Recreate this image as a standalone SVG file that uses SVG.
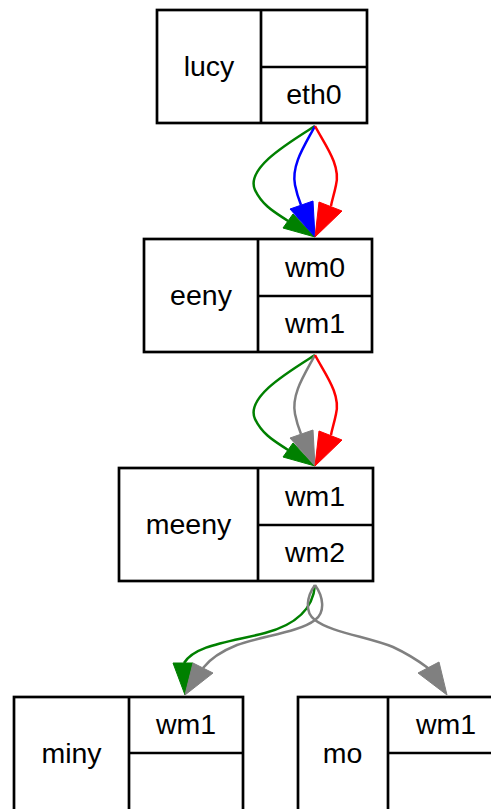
<svg xmlns="http://www.w3.org/2000/svg" width="491" height="809" viewBox="0 0 491 809">
<style>
.box{fill:none;stroke:#000;stroke-width:2.7}
.ln{stroke:#000;stroke-width:2.7}
text{font-family:"Liberation Sans",Arial,sans-serif;font-size:28.5px;text-anchor:middle;fill:#000}
.e{fill:none;stroke-width:2.5}
</style>
<rect width="491" height="809" fill="#fff"/>
<g id="lucy">
<rect class="box" x="157" y="10" width="210" height="113"/>
<line class="ln" x1="261" y1="10" x2="261" y2="123"/>
<line class="ln" x1="261" y1="67" x2="367" y2="67"/>
<text x="209" y="75.5">lucy</text>
<text x="314" y="104">eth0</text>
</g>
<g id="eeny">
<rect class="box" x="144" y="239" width="228" height="113"/>
<line class="ln" x1="258" y1="239" x2="258" y2="352"/>
<line class="ln" x1="258" y1="296" x2="372" y2="296"/>
<text x="201" y="304.5">eeny</text>
<text x="315" y="276.5">wm0</text>
<text x="315" y="332.5">wm1</text>
</g>
<g id="meeny">
<rect class="box" x="119" y="468" width="254" height="113"/>
<line class="ln" x1="258" y1="468" x2="258" y2="581"/>
<line class="ln" x1="258" y1="525" x2="373" y2="525"/>
<text x="188.5" y="533.5">meeny</text>
<text x="315" y="505.5">wm1</text>
<text x="315" y="561.5">wm2</text>
</g>
<g id="miny">
<rect class="box" x="14" y="697" width="229" height="120"/>
<line class="ln" x1="129" y1="697" x2="129" y2="817"/>
<line class="ln" x1="129" y1="753" x2="243" y2="753"/>
<text x="71.5" y="762.5">miny</text>
<text x="186" y="733.5">wm1</text>
</g>
<g id="mo">
<rect class="box" x="298" y="697" width="210" height="120"/>
<line class="ln" x1="388" y1="697" x2="388" y2="817"/>
<line class="ln" x1="388" y1="753" x2="508" y2="753"/>
<text x="342.5" y="762.5">mo</text>
<text x="446" y="733.5">wm1</text>
</g>
<g id="edges">
<path class="e" stroke="#008000" d="M315,126 C290,142 245,168 255,190 C263,207 278,214 288,221"/>
<polygon fill="#008000" stroke="#008000" stroke-width="1" points="283,228 293,214 315,237"/>
<path class="e" stroke="#0000ff" d="M315,126 C305,145 291,165 295,185 C297,195 299,200 301,205"/>
<polygon fill="#0000ff" stroke="#0000ff" stroke-width="1" points="290,209 313,201 315,237"/>
<path class="e" stroke="#ff0000" d="M315,126 C325,145 341,165 336,185 C334,195 332,200 331,206"/>
<polygon fill="#ff0000" stroke="#ff0000" stroke-width="1" points="319,202 342,211 315,237"/>

<path class="e" stroke="#008000" d="M315,355 C290,371 245,397 255,419 C263,436 278,443 288,450"/>
<polygon fill="#008000" stroke="#008000" stroke-width="1" points="283,457 293,443 315,466"/>
<path class="e" stroke="#808080" d="M315,355 C305,374 291,394 295,414 C297,424 299,429 301,434"/>
<polygon fill="#808080" stroke="#808080" stroke-width="1" points="290,438 313,430 315,466"/>
<path class="e" stroke="#ff0000" d="M315,355 C325,374 341,394 336,414 C334,424 332,429 331,435"/>
<polygon fill="#ff0000" stroke="#ff0000" stroke-width="1" points="319,431 342,440 315,466"/>

<path class="e" stroke="#008000" d="M315,585 C313,610 295,625 265,633 C230,642 195,645 184,663"/>
<polygon fill="#008000" stroke="#008000" stroke-width="1" points="173,663 193,663 185,695"/>
<path class="e" stroke="#808080" d="M315,585 C323,596 326,612 315,620 C300,632 262,636 237,645 C222,651 210,659 203,668"/>
<polygon fill="#808080" stroke="#808080" stroke-width="1" points="193,663 213,673 185,695"/>
<path class="e" stroke="#808080" d="M315,585 C307,596 304,612 315,620 C330,632 368,637 393,647 C408,654 420,662 428,668"/>
<polygon fill="#808080" stroke="#808080" stroke-width="1" points="418,673 439,662 447,695"/>
</g>
</svg>
